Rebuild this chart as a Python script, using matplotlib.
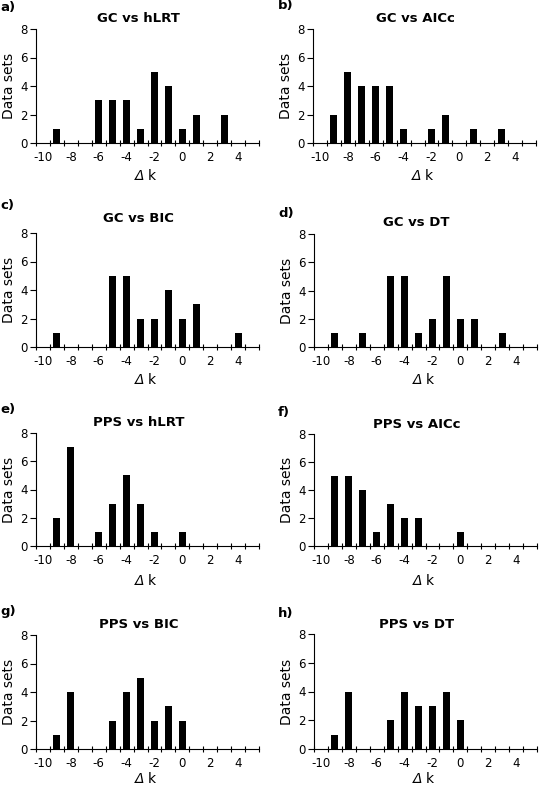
import numpy as np
import matplotlib
matplotlib.use('Agg')
import matplotlib.pyplot as plt
from matplotlib.ticker import FixedLocator

plt.rcParams['font.family'] = ['DejaVu Sans']

# delta k categories -10 .. 5
delta_k = list(range(-10, 6))
tick_labels = ['-10', '-8', '-6', '-4', '-2', '0', '2', '4']

gc_hlrt = [0, 1, 0, 0, 3, 3, 3, 1, 5, 4, 1, 2, 0, 2, 0, 0]
gc_aicc = [0, 2, 5, 4, 4, 4, 1, 0, 1, 2, 0, 1, 0, 1, 0, 0]
gc_bic = [0, 1, 0, 0, 0, 5, 5, 2, 2, 4, 2, 3, 0, 0, 1, 0]
gc_dt = [0, 1, 0, 1, 0, 5, 5, 1, 2, 5, 2, 2, 0, 1, 0, 0]
pps_hlrt = [0, 2, 7, 0, 1, 3, 5, 3, 1, 0, 1, 0, 0, 0, 0, 0]
pps_aicc = [0, 5, 5, 4, 1, 3, 2, 2, 0, 0, 1, 0, 0, 0, 0, 0]
pps_bic = [0, 1, 4, 0, 0, 2, 4, 5, 2, 3, 2, 0, 0, 0, 0, 0]
pps_dt = [0, 1, 4, 0, 0, 2, 4, 3, 3, 4, 2, 0, 0, 0, 0, 0]

panels = [
    ('a)', 'GC vs hLRT', gc_hlrt),
    ('b)', 'GC vs AICc', gc_aicc),
    ('c)', 'GC vs BIC', gc_bic),
    ('d)', 'GC vs DT', gc_dt),
    ('e)', 'PPS vs hLRT', pps_hlrt),
    ('f)', 'PPS vs AICc', pps_aicc),
    ('g)', 'PPS vs BIC', pps_bic),
    ('h)', 'PPS vs DT', pps_dt),
]

W, H = 540, 787
fig = plt.figure(figsize=(W / 100, H / 100), dpi=100)

# pixel layout: (left, top, right, bottom, title_y, label_y, xlabel_offset)
layout = [
    (36, 29, 259, 143, 19, 7, 33),
    (313, 29, 536, 143, 19, 6, 33),
    (36, 233, 259, 347, 219, 206, 33),
    (314, 234, 537, 347, 223, 213, 33),
    (36, 433, 259, 546, 423, 410, 35),
    (314, 434, 537, 546, 425, 412, 35),
    (36, 635, 259, 749, 625, 612, 30),
    (314, 634, 537, 749, 625, 613, 30),
]

for (lab, title, counts), (l, t, r, b, ty, ly, xo) in zip(panels, layout):
    ax = fig.add_axes([l / W, 1 - b / H, (r - l) / W, (b - t) / H])
    ax.bar(delta_k, counts, width=0.5, color='black')
    ax.set_xlim(-10.5, 5.5)
    ax.set_ylim(0, 8)
    ax.set_yticks([0, 2, 4, 6, 8])
    ax.set_xticks(delta_k[::2])
    ax.set_xticklabels(tick_labels)
    ax.xaxis.set_minor_locator(FixedLocator(np.arange(-10.5, 6, 1)))
    ax.tick_params(axis='x', which='major', length=0, labelsize=8.5, pad=6)
    ax.tick_params(axis='x', which='minor', length=4, width=0.8, direction='inout')
    ax.tick_params(axis='y', length=4, width=0.8, labelsize=8.5, pad=2)
    for s in ['top', 'right']:
        ax.spines[s].set_visible(False)
    for s in ['left', 'bottom']:
        ax.spines[s].set_linewidth(0.8)
    ax.set_ylabel('Data sets', fontsize=10, labelpad=3)
    # x label: italic delta followed by upright k
    ax.annotate('Δ', xy=(0.5, 0), xycoords='axes fraction', xytext=(-3, -xo),
                textcoords='offset pixels', ha='right', va='center',
                fontsize=10, style='italic')
    ax.annotate('k', xy=(0.5, 0), xycoords='axes fraction', xytext=(0, -xo),
                textcoords='offset pixels', ha='left', va='center', fontsize=10)
    cx = (l + r) / 2 - 9
    fig.text(cx / W, 1 - ty / H, title, ha='center', va='center',
             fontsize=9.5, fontweight='bold')
    lx = 0 if l < 100 else 278
    fig.text(lx / W, 1 - ly / H, lab, ha='left', va='center',
             fontsize=9.5, fontweight='bold')

fig.savefig('out.png', dpi=100)
